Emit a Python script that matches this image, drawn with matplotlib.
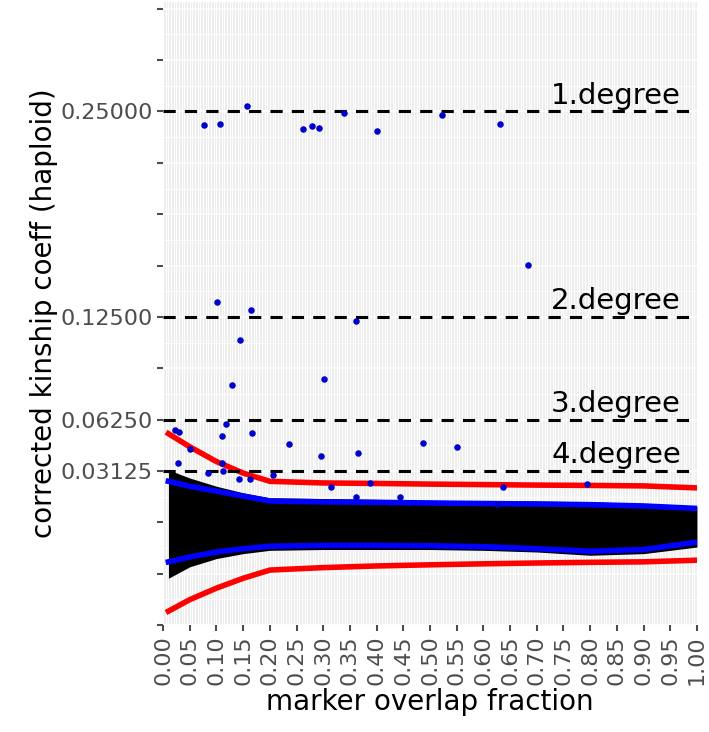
import matplotlib
matplotlib.use("Agg")
import matplotlib.pyplot as plt
import numpy as np

# ── Data ─────────────────────────────────────────────────────────────────────
degree_levels = [0.25, 0.125, 0.0625, 0.03125]
degree_labels = ["1.degree", "2.degree", "3.degree", "4.degree"]

# outlier pairs (blue points)
pair_x = [0.157, 0.077, 0.107, 0.262, 0.279, 0.292, 0.339, 0.401, 0.522, 0.631,
          0.684, 0.101, 0.165, 0.361, 0.144, 0.129, 0.301, 0.118, 0.022, 0.030,
          0.050, 0.167, 0.110, 0.236, 0.296, 0.365, 0.487, 0.551, 0.028, 0.084,
          0.110, 0.112, 0.142, 0.163, 0.206, 0.315, 0.361, 0.388, 0.444, 0.637,
          0.625, 0.794]
pair_y = [0.2536, 0.2416, 0.2422, 0.2392, 0.2410, 0.2398, 0.2488, 0.2380, 0.2476, 0.2422,
          0.1567, 0.1340, 0.1292, 0.1226, 0.1107, 0.0838, 0.0873, 0.0598, 0.0562, 0.0550,
          0.0449, 0.0544, 0.0526, 0.0478, 0.0401, 0.0425, 0.0485, 0.0461, 0.0359, 0.0299,
          0.0359, 0.0311, 0.0263, 0.0263, 0.0287, 0.0215, 0.0156, 0.0239, 0.0156, 0.0215,
          0.0114, 0.0233]

# envelope / smooth lines
env_x = [0.01, 0.05, 0.10, 0.15, 0.20, 0.30, 0.40, 0.50, 0.60, 0.70, 0.80, 0.90, 1.00]
blue_hi = [0.025, 0.022, 0.019, 0.016, 0.013, 0.0125, 0.0122, 0.0118, 0.0115, 0.0112, 0.0108, 0.0100, 0.0085]
blue_lo = [-0.024, -0.021, -0.018, -0.016, -0.0145, -0.014, -0.0140, -0.0142, -0.0148, -0.0160, -0.0175, -0.0165, -0.0120]
red_hi = [0.054, 0.046, 0.037, 0.030, 0.025, 0.0240, 0.0237, 0.0233, 0.0230, 0.0227, 0.0225, 0.0222, 0.0210]
red_lo = [-0.054, -0.047, -0.040, -0.034, -0.029, -0.0275, -0.0265, -0.0258, -0.0252, -0.0247, -0.0243, -0.0240, -0.0230]
cloud_hi = [0.032, 0.027, 0.022, 0.018, 0.015, 0.0145, 0.014, 0.0135, 0.013, 0.013, 0.0125, 0.0115, 0.010]
cloud_lo = [-0.034, -0.027, -0.022, -0.019, -0.017, -0.0165, -0.0165, -0.0165, -0.017, -0.018, -0.020, -0.019, -0.015]

x_ticks = [i * 0.05 for i in range(21)]

fig = plt.figure(figsize=(7.09, 7.32), dpi=100)
ax = fig.add_axes([0.23, 0.146, 0.753, 0.851])
ax.set_facecolor("#EBEBEB")

for gx in np.arange(0, 1.0001, 0.005):
    ax.axvline(gx, color="white", lw=0.9, zorder=0)
ytk = np.arange(-0.0625, 0.3126, 0.03125)
for gy in ytk:
    ax.axhline(gy, color="white", lw=1.1, zorder=0)
    ax.axhline(gy + 0.015625, color="white", lw=0.6, zorder=0)

ax.fill_between(env_x, cloud_lo, cloud_hi, color="black", lw=0, zorder=1)
ax.plot(env_x, blue_hi, color="#0000FF", lw=4, zorder=2)
ax.plot(env_x, blue_lo, color="#0000FF", lw=4, zorder=2)
ax.plot(env_x, red_hi, color="#FF0000", lw=4, zorder=2)
ax.plot(env_x, red_lo, color="#FF0000", lw=4, zorder=2)
ax.scatter(pair_x, pair_y, s=22, color="#0000CC", zorder=3, lw=0)

for lvl, lab in zip(degree_levels, degree_labels):
    ax.axhline(lvl, color="black", lw=2.2, ls=(0, (4, 3)), zorder=2)
    ax.text(0.97, lvl + 0.001, lab, ha="right", va="bottom", fontsize=21, zorder=4)

ax.set_xlim(0, 1.0)
ax.set_ylim(-0.049, 0.3165)
ax.set_yticks(ytk)
ax.set_yticklabels(["%.5f" % t if t in degree_levels else "" for t in ytk])
ax.set_xticks(x_ticks)
ax.set_xticklabels(["%.2f" % t for t in x_ticks], rotation=90)
ax.tick_params(labelsize=16, colors="#4D4D4D", length=4, width=1.5)
for s in ax.spines.values():
    s.set_visible(False)
ax.set_xlabel("marker overlap fraction", fontsize=20, labelpad=2)
ax.set_ylabel("corrected kinship coeff (haploid)", fontsize=20, labelpad=2)

fig.savefig("out.png", dpi=100)
